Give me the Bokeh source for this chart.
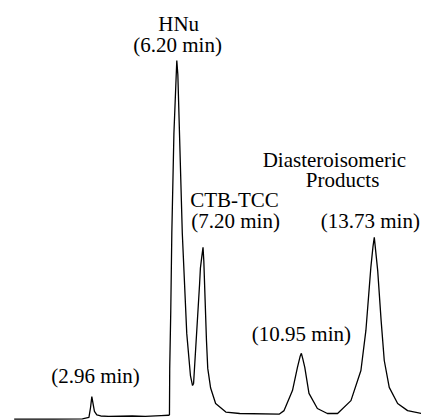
from bokeh.plotting import figure
from bokeh.models import Range1d, ColumnDataSource
from bokeh.core.properties import value
from bokeh.embed import file_html
from bokeh.resources import INLINE

# Chromatogram trace: retention time (min) vs. detector signal (% of HNu peak)
time_min = [0.00, 1.50, 2.60, 2.85, 2.91, 2.96, 3.01, 3.06, 3.15, 3.30, 3.60, 4.50, 5.00, 5.60, 5.88,
            5.92, 5.93, 5.97, 6.01, 6.09, 6.20, 6.24, 6.41, 6.58, 6.72, 6.80,
            6.84, 7.07, 7.10, 7.15, 7.20, 7.23, 7.28, 7.33, 7.38, 7.49, 7.68, 8.07, 8.60, 10.10,
            10.29, 10.61, 10.80, 10.90, 10.95, 11.00, 11.08, 11.24, 11.56, 11.94,
            12.33, 12.84, 13.22, 13.41, 13.54, 13.60, 13.68, 13.73, 13.86, 13.99, 14.11, 14.30,
            14.62, 15.00, 15.53]
signal = [-0.2, -0.2, -0.1, 0.3, 3.0, 6.1, 4.0, 2.0, 1.0, 0.7, 0.6, 0.7, 0.6, 0.8, 0.9,
          1.0, 14.0, 30.0, 51.7, 79.6, 100.0, 96.0, 51.7, 23.7, 12.0, 9.2,
          9.8, 37.7, 42.0, 45.0, 47.8, 44.0, 33.0, 22.0, 14.0, 8.5, 4.2, 1.8, 1.4, 1.2,
          2.2, 7.8, 14.3, 17.3, 18.2, 16.8, 14.3, 7.0, 2.8, 1.4,
          1.4, 5.0, 13.4, 24.6, 36.7, 42.3, 48.0, 50.6, 41.3, 27.4, 16.2, 8.7,
          4.2, 2.2, 1.4]

# Peak annotations
label_texts = ["HNu", "(6.20 min)", "CTB-TCC", "(7.20 min)", "Diasteroisomeric", "Products",
               "(13.73 min)", "(10.95 min)", "(2.96 min)"]
label_t = [6.27, 6.23, 8.40, 8.44, 12.21, 12.52, 13.58, 10.95, 3.10]
label_s = [110.3, 104.2, 60.9, 55.3, 72.1, 66.5, 55.3, 23.7, 12.0]

p = figure(width=421, height=420, output_backend="svg", toolbar_location=None,
           x_range=Range1d(-0.522, 15.53), y_range=Range1d(-0.56, 116.76),
           min_border=0, min_border_left=0, min_border_right=0, min_border_top=0, min_border_bottom=0)
p.axis.visible = False
p.grid.visible = False
p.outline_line_color = None
p.background_fill_color = "white"
p.border_fill_color = "white"

p.line(time_min, signal, line_color="black", line_width=1.3)

src = ColumnDataSource(dict(x=label_t, y=label_s, t=label_texts))
p.text(x="x", y="y", text="t", source=src, text_font=value("Liberation Serif"),
       text_font_size="21px", text_align="center", text_baseline="middle", text_color="black")

open("out.html", "w").write(file_html(p, INLINE))
